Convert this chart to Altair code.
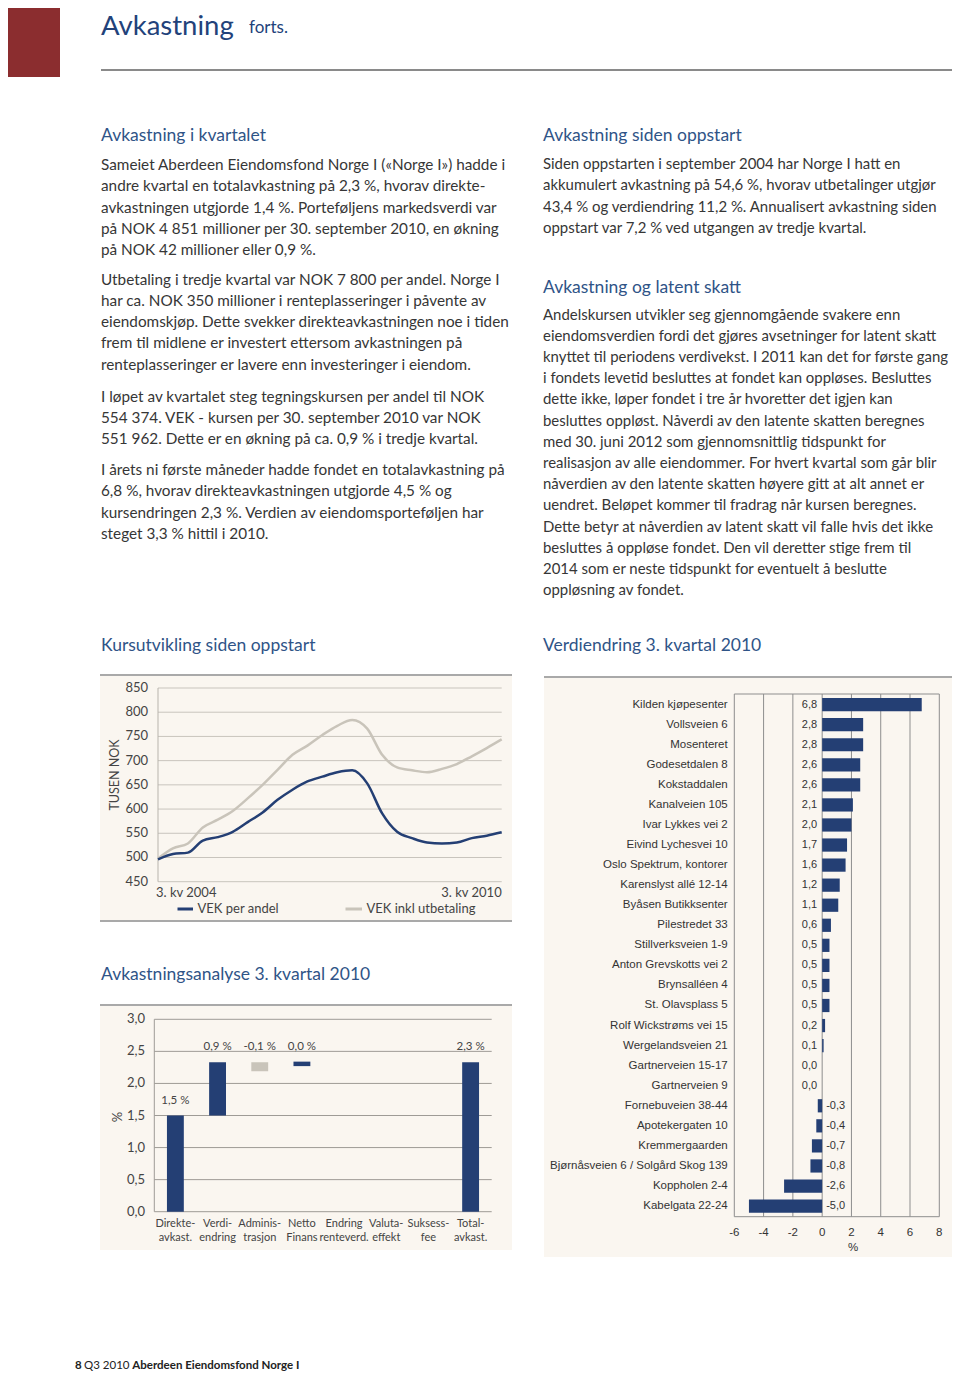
import altair as alt
import pandas as pd

# ------------------------------------------------------------------ data
quarters = list(range(24))
vek_per_andel = [496, 507, 510, 535, 542, 553, 573, 593, 619, 640, 657, 667,
                 676, 680, 653, 591, 553, 540, 531, 529, 531, 540, 545, 552]
vek_inkl_utbetaling = [498, 519, 529, 562, 578, 596, 622, 650, 681, 712, 731, 753,
                       772, 784, 766, 712, 686, 680, 676, 683, 693, 709, 726, 744]
line_y_ticks = [450, 500, 550, 600, 650, 700, 750, 800, 850]
line_x_first = "3. kv 2004"
line_x_last = "3. kv 2010"

wf_top = ["Direkte-", "Verdi-", "Adminis-", "Netto", "Endring", "Valuta-", "Suksess-", "Total-"]
wf_bottom = ["avkast.", "endring", "trasjon", "Finans", "renteverd.", "effekt", "fee", "avkast."]
wf_bar_index = [0, 1, 2, 3, 7]
wf_from = [0.0, 1.5, 2.33, 2.27, 0.0]
wf_to = [1.5, 2.33, 2.19, 2.34, 2.33]
wf_labels = ["1,5 %", "0,9 %", "-0,1 %", "0,0 %", "2,3 %"]
wf_y_ticks = [0.0, 0.5, 1.0, 1.5, 2.0, 2.5, 3.0]

properties = ["Kilden kjøpesenter", "Vollsveien 6", "Mosenteret", "Godesetdalen 8",
              "Kokstaddalen", "Kanalveien 105", "Ivar Lykkes vei 2", "Eivind Lychesvei 10",
              "Oslo Spektrum, kontorer", "Karenslyst allé 12-14", "Byåsen Butikksenter",
              "Pilestredet 33", "Stillverksveien 1-9", "Anton Grevskotts vei 2",
              "Brynsalléen 4", "St. Olavsplass 5", "Rolf Wickstrøms vei 15",
              "Wergelandsveien 21", "Gartnerveien 15-17", "Gartnerveien 9",
              "Fornebuveien 38-44", "Apotekergaten 10", "Kremmergaarden",
              "Bjørnåsveien 6 / Solgård Skog 139", "Koppholen 2-4", "Kabelgata 22-24"]
changes = [6.8, 2.8, 2.8, 2.6, 2.6, 2.1, 2.0, 1.7, 1.6, 1.2, 1.1, 0.6, 0.5,
           0.5, 0.5, 0.5, 0.2, 0.1, 0.0, 0.0, -0.3, -0.4, -0.7, -0.8, -2.6, -5.0]
hb_x_ticks = [-6, -4, -2, 0, 2, 4, 6, 8]
hb_grid = [-4, -2, 0, 2, 4, 6]

left_heading = "Avkastning i kvartalet"
left_p1 = ["Sameiet Aberdeen Eiendomsfond Norge I («Norge I») hadde i",
           "andre kvartal en totalavkastning på 2,3 %, hvorav direkte-",
           "avkastningen utgjorde 1,4 %. Porteføljens markedsverdi var",
           "på NOK 4 851 millioner per 30. september 2010, en økning",
           "på NOK 42 millioner eller 0,9 %."]
left_p2 = ["Utbetaling i tredje kvartal var NOK 7 800 per andel. Norge I",
           "har ca. NOK 350 millioner i renteplasseringer i påvente av",
           "eiendomskjøp. Dette svekker direkteavkastningen noe i tiden",
           "frem til midlene er investert ettersom avkastningen på",
           "renteplasseringer er lavere enn investeringer i eiendom."]
left_p3 = ["I løpet av kvartalet steg tegningskursen per andel til NOK",
           "554 374. VEK - kursen per 30. september 2010 var NOK",
           "551 962. Dette er en økning på ca. 0,9 % i tredje kvartal."]
left_p4 = ["I årets ni første måneder hadde fondet en totalavkastning på",
           "6,8 %, hvorav direkteavkastningen utgjorde 4,5 % og",
           "kursendringen 2,3 %. Verdien av eiendomsporteføljen har",
           "steget 3,3 % hittil i 2010."]
right_heading1 = "Avkastning siden oppstart"
right_p1 = ["Siden oppstarten i september 2004 har Norge I hatt en",
            "akkumulert avkastning på 54,6 %, hvorav utbetalinger utgjør",
            "43,4 % og verdiendring 11,2 %. Annualisert avkastning siden",
            "oppstart var 7,2 % ved utgangen av tredje kvartal."]
right_heading2 = "Avkastning og latent skatt"
right_p2 = ["Andelskursen utvikler seg gjennomgående svakere enn",
            "eiendomsverdien fordi det gjøres avsetninger for latent skatt",
            "knyttet til periodens verdivekst. I 2011 kan det for første gang",
            "i fondets levetid besluttes at fondet kan oppløses. Besluttes",
            "dette ikke, løper fondet i tre år hvoretter det igjen kan",
            "besluttes oppløst. Nåverdi av den latente skatten beregnes",
            "med 30. juni 2012 som gjennomsnittlig tidspunkt for",
            "realisasjon av alle eiendommer. For hvert kvartal som går blir",
            "nåverdien av den latente skatten høyere gitt at alt annet er",
            "uendret. Beløpet kommer til fradrag når kursen beregnes.",
            "Dette betyr at nåverdien av latent skatt vil falle hvis det ikke",
            "besluttes å oppløse fondet. Den vil deretter stige frem til",
            "2014 som er neste tidspunkt for eventuelt å beslutte",
            "oppløsning av fondet."]

# ------------------------------------------------------------------ style
OFF = 8
def px(v): return v - OFF
def py(v): return v - OFF

FONT = "Lato"
ARIAL = "Liberation Sans"
NAVY = "#243F74"
LIGHT = "#C9C4BA"
BEIGE = "#FAF6F0"
RULE = "#8C8C8C"
HEAD = "#2F5487"
TEXT = "#363636"
BODY = 15.3
BODY_R = 14.95
LH = 21.25

one = alt.Data(values=[{}])


def rect(x1, x2, y1, y2, color):
    return alt.Chart(one).mark_rect(color=color).encode(
        x=alt.value(px(x1)), x2=alt.value(px(x2)), y=alt.value(py(y1)), y2=alt.value(py(y2)))


def hrule(x1, x2, y, color=RULE, w=1.5):
    return alt.Chart(one).mark_rule(color=color, strokeWidth=w).encode(
        x=alt.value(px(x1)), x2=alt.value(px(x2)), y=alt.value(py(y)))


def vrule(x, y1, y2, color=RULE, w=1):
    return alt.Chart(one).mark_rule(color=color, strokeWidth=w).encode(
        x=alt.value(px(x)), y=alt.value(py(y1)), y2=alt.value(py(y2)))


def label(txt, x, y, size, color=TEXT, font=FONT, align="left", baseline="middle",
          weight="normal", angle=0):
    mk = dict(text=txt, align=align, baseline=baseline, font=font, fontSize=size,
              color=color, fontWeight=weight)
    if angle:
        mk["angle"] = angle
    return alt.Chart(one).mark_text(**mk).encode(x=alt.value(px(x)), y=alt.value(py(y)))


def block(lines, x, y0, size=BODY, color=TEXT, lh=LH):
    df = pd.DataFrame({"line": lines, "i": list(range(len(lines)))})
    return alt.Chart(df).mark_text(align="left", baseline="middle", font=FONT,
                                   fontSize=size, color=color).encode(
        x=alt.value(px(x)),
        y=alt.Y("i:Q", scale=alt.Scale(domain=[0, 1], range=[py(y0), py(y0) + lh]), axis=None),
        text="line:N")


layers = []

# ------------------------------------------------------------------ header
layers += [
    rect(0, 60, 0, 77, "#8B2D2F"),
    label("Avkastning", 101, 13, 27.5, color="#22427A", baseline="top"),
    label("forts.", 249, 33, 17, color="#22427A", baseline="alphabetic"),
    hrule(101, 955, 70, "#8A8A8A", 2),
]

# ------------------------------------------------------------------ body text
layers += [
    block([left_heading], 101, 136, size=17.5, color=HEAD),
    block(left_p1, 101, 165),
    block(left_p2, 101, 279.5),
    block(left_p3, 101, 396.5),
    block(left_p4, 101, 470),
    block([right_heading1], 543, 136, size=17.5, color=HEAD),
    block(right_p1, 543, 165, size=BODY_R),
    block([right_heading2], 543, 288, size=17.5, color=HEAD),
    block(right_p2, 543, 315.5, size=BODY_R, lh=21.2),
    block(["Kursutvikling siden oppstart"], 101, 645.5, size=17.5, color=HEAD),
    block(["Verdiendring 3. kvartal 2010"], 543, 645.5, size=17.5, color=HEAD),
    block(["Avkastningsanalyse 3. kvartal 2010"], 101, 975, size=17.5, color=HEAD),
]

# ------------------------------------------------------------------ line chart
layers += [rect(100, 512, 676, 920, BEIGE), hrule(100, 512, 675), hrule(100, 512, 921)]

line_x = alt.Scale(domain=[0, 23], range=[px(158), px(501.7)])
line_y = alt.Scale(domain=[450, 850], range=[py(881.7), py(688)])
df_line = pd.DataFrame({"q": quarters, "andel": vek_per_andel, "inkl": vek_inkl_utbetaling})
df_lgrid = pd.DataFrame({"t": line_y_ticks, "lab": [str(t) for t in line_y_ticks]})
df_lx = pd.DataFrame({"q": [quarters[0], quarters[-1]], "lab": [line_x_first, line_x_last]})

line_chart = alt.layer(
    alt.Chart(df_lgrid).mark_rule(color="#C8C4BD", strokeWidth=1).encode(
        x=alt.value(px(158)), x2=alt.value(px(501.7)),
        y=alt.Y("t:Q", scale=line_y, axis=None)),
    vrule(158, 688, 881.7, "#B8B4AD"),
    alt.Chart(df_lgrid).mark_text(align="right", baseline="middle", font=FONT, fontSize=13,
                                  color="#444444").encode(
        x=alt.value(px(148)), y=alt.Y("t:Q", scale=line_y, axis=None), text="lab:N"),
    alt.Chart(df_line).mark_line(color=LIGHT, strokeWidth=2.5, interpolate="monotone").encode(
        x=alt.X("q:Q", scale=line_x, axis=None), y=alt.Y("inkl:Q", scale=line_y, axis=None)),
    alt.Chart(df_line).mark_line(color=NAVY, strokeWidth=2.5, interpolate="monotone").encode(
        x=alt.X("q:Q", scale=line_x, axis=None), y=alt.Y("andel:Q", scale=line_y, axis=None)),
    alt.Chart(df_lx).transform_filter("datum.q == 0").mark_text(
        align="left", baseline="middle", font=FONT, fontSize=13, color="#444444", dx=-2).encode(
        x=alt.X("q:Q", scale=line_x, axis=None), y=alt.value(py(892.5)), text="lab:N"),
    alt.Chart(df_lx).transform_filter("datum.q > 0").mark_text(
        align="right", baseline="middle", font=FONT, fontSize=13, color="#444444").encode(
        x=alt.X("q:Q", scale=line_x, axis=None), y=alt.value(py(892.5)), text="lab:N"),
)
layers += [
    line_chart,
    label("TUSEN NOK", 115, 775, 12.5, color="#444444", align="center", angle=270),
    hrule(177.5, 193, 909, NAVY, 3),
    label("VEK per andel", 197.5, 909, 13, color="#444444"),
    hrule(345.5, 362, 909, LIGHT, 3),
    label("VEK inkl utbetaling", 366.5, 909, 13, color="#444444"),
]

# ------------------------------------------------------------------ waterfall chart
layers += [rect(100, 512, 1006, 1250, BEIGE), hrule(100, 512, 1005)]

wf_cats = [t + " " + b for t, b in zip(wf_top, wf_bottom)]
wf_x = alt.Scale(domain=wf_cats, range=[px(154.3), px(491.7)], paddingInner=0.6, paddingOuter=0.3)
wf_y = alt.Scale(domain=[0, 3], range=[py(1211.7), py(1019.3)])
df_wf = pd.DataFrame({"cat": [wf_cats[i] for i in wf_bar_index], "fra": wf_from,
                      "til": wf_to, "lab": wf_labels})
df_wcat = pd.DataFrame({"cat": wf_cats, "l1": wf_top, "l2": wf_bottom})
df_wgrid = pd.DataFrame({"t": wf_y_ticks,
                         "lab": [f"{t:.1f}".replace(".", ",") for t in wf_y_ticks]})

wf_chart = alt.layer(
    alt.Chart(df_wgrid).mark_rule(color="#9E9B96", strokeWidth=1).encode(
        x=alt.value(px(154.3)), x2=alt.value(px(491.7)),
        y=alt.Y("t:Q", scale=wf_y, axis=None)),
    vrule(154.3, 1019.3, 1211.7, "#9E9B96"),
    alt.Chart(df_wgrid).mark_text(align="right", baseline="middle", font=FONT, fontSize=13,
                                  color="#444444").encode(
        x=alt.value(px(145)), y=alt.Y("t:Q", scale=wf_y, axis=None), text="lab:N"),
    alt.Chart(df_wf).mark_bar().encode(
        x=alt.X("cat:N", scale=wf_x, axis=None),
        y=alt.Y("fra:Q", scale=wf_y, axis=None), y2="til:Q",
        color=alt.condition("datum.til < datum.fra", alt.value(LIGHT), alt.value(NAVY))),
    alt.Chart(df_wf).transform_calculate(top="max(datum.fra, datum.til)").mark_text(
        align="center", baseline="middle", font=FONT, fontSize=11.5, color="#444444", dy=-15).encode(
        x=alt.X("cat:N", scale=wf_x, axis=None),
        y=alt.Y("top:Q", scale=wf_y, axis=None), text="lab:N"),
    alt.Chart(df_wcat).mark_text(align="center", baseline="middle", font=FONT, fontSize=11,
                                 color="#444444").encode(
        x=alt.X("cat:N", scale=wf_x, axis=None), y=alt.value(py(1224)), text="l1:N"),
    alt.Chart(df_wcat).mark_text(align="center", baseline="middle", font=FONT, fontSize=11,
                                 color="#444444").encode(
        x=alt.X("cat:N", scale=wf_x, axis=None), y=alt.value(py(1237.5)), text="l2:N"),
)
layers += [wf_chart, label("%", 118, 1117, 13, color="#444444", align="center", angle=270)]

# ------------------------------------------------------------------ horizontal bar chart
layers += [rect(544, 955, 678, 1257, BEIGE), hrule(544, 955, 677)]

hb_y = alt.Scale(domain=properties, range=[py(694), py(1216.7)], paddingInner=0.34, paddingOuter=0.2)
hb_x = alt.Scale(domain=[-6, 8], range=[px(734.3), px(939.3)])
df_hb = pd.DataFrame({"name": properties, "v": changes,
                      "lab": [f"{v:.1f}".replace(".", ",") for v in changes]})
df_hgrid = pd.DataFrame({"t": hb_grid})
df_htick = pd.DataFrame({"t": hb_x_ticks, "lab": [str(t) for t in hb_x_ticks]})

hb_chart = alt.layer(
    alt.Chart(df_hgrid).mark_rule(color="#8E8E8E", strokeWidth=1).encode(
        x=alt.X("t:Q", scale=hb_x, axis=None), y=alt.value(py(694)), y2=alt.value(py(1216.7))),
    alt.Chart(df_hb).mark_bar(color=NAVY).encode(
        y=alt.Y("name:N", scale=hb_y, axis=None),
        x=alt.X("v:Q", scale=hb_x, axis=None), x2=alt.datum(0)),
    alt.Chart(one).mark_rect(fill="transparent", stroke="#8E8E8E", strokeWidth=1).encode(
        x=alt.value(px(734.3)), x2=alt.value(px(939.3)),
        y=alt.value(py(694)), y2=alt.value(py(1216.7))),
    alt.Chart(df_hb).transform_filter("datum.v >= 0").mark_text(
        align="right", baseline="middle", font=ARIAL, fontSize=11, color="#333333", dx=-5).encode(
        x=alt.X(datum=0, scale=hb_x, axis=None),
        y=alt.Y("name:N", scale=hb_y, axis=None), text="lab:N"),
    alt.Chart(df_hb).transform_filter("datum.v < 0").mark_text(
        align="left", baseline="middle", font=ARIAL, fontSize=11, color="#333333", dx=4).encode(
        x=alt.X(datum=0, scale=hb_x, axis=None),
        y=alt.Y("name:N", scale=hb_y, axis=None), text="lab:N"),
    alt.Chart(df_hb).mark_text(align="right", baseline="middle", font=ARIAL, fontSize=11.5,
                               color="#333333").encode(
        x=alt.value(px(727.7)), y=alt.Y("name:N", scale=hb_y, axis=None), text="name:N"),
    alt.Chart(df_htick).mark_text(align="center", baseline="middle", font=ARIAL, fontSize=11.5,
                                  color="#333333").encode(
        x=alt.X("t:Q", scale=hb_x, axis=None), y=alt.value(py(1232.5)), text="lab:N"),
)
layers += [hb_chart, label("%", 853, 1247.5, 11.5, color="#333333", font=ARIAL, align="center")]

# ------------------------------------------------------------------ footer
layers += [
    label("8", 75, 1366, 11.5, color="#222222", weight="bold"),
    label("Q3 2010", 84, 1366, 11.5, color="#222222"),
    label("Aberdeen Eiendomsfond Norge I", 132.3, 1366, 11.5, color="#222222", weight="bold"),
]

chart = alt.layer(*layers).resolve_scale(x="independent", y="independent").properties(
    width=944, height=1364, padding=0, autosize="none", background="white"
).configure_view(stroke=None)

chart.save("out.html", embed_options={"renderer": "svg", "actions": False})
